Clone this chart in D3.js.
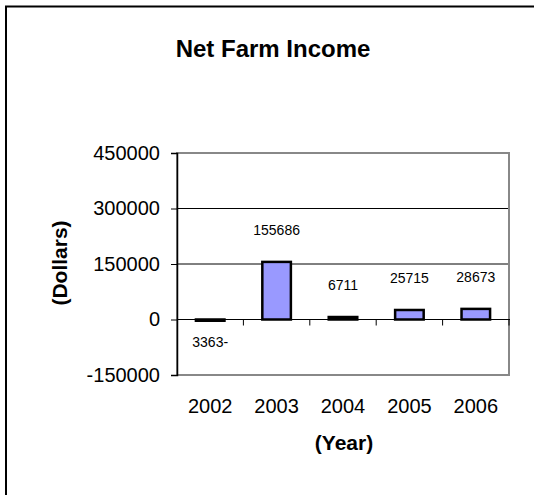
<!DOCTYPE html>
<html>
<head>
<meta charset="utf-8">
<script src="https://cdn.jsdelivr.net/npm/d3@7"></script>
<style>
  body { margin: 0; background: #fff; }
  text { font-family: Arial, "Liberation Sans", sans-serif; }
</style>
</head>
<body>
<script>
// chart data
var years = ["2002", "2003", "2004", "2005", "2006"];
var income = [-3363, 155686, 6711, 25715, 28673];
var labels = ["3363-", "155686", "6711", "25715", "28673"];
var yTicks = [-150000, 0, 150000, 300000, 450000];

var W = 534, H = 495;
var plot = { left: 177, right: 509, top: 153, bottom: 375 };

var svg = d3.select("body").append("svg")
  .attr("width", W)
  .attr("height", H);

// outer frame (only top and left edges are visible in the picture)
svg.append("path")
  .attr("d", "M6," + H + "V6.5H" + W)
  .attr("fill", "none")
  .attr("stroke", "#000")
  .attr("stroke-width", 2);

var x = d3.scaleBand().domain(years).range([plot.left, plot.right]).paddingInner(0.57).paddingOuter(0.285);
var band = d3.scaleBand().domain(years).range([plot.left, plot.right]);
var y = d3.scaleLinear().domain([-150000, 450000]).range([plot.bottom, plot.top]);

// title
svg.append("text")
  .attr("x", 273)
  .attr("y", 57)
  .attr("text-anchor", "middle")
  .style("font-size", "24px")
  .style("font-weight", "bold")
  .text("Net Farm Income");

// gridlines
svg.append("g")
  .selectAll("line")
  .data(yTicks.filter(function(d) { return d > 0 && d < 450000; }))
  .enter().append("line")
  .attr("x1", plot.left).attr("x2", plot.right)
  .attr("y1", function(d) { return y(d); })
  .attr("y2", function(d) { return y(d); })
  .attr("stroke", "#000")
  .attr("stroke-width", 1);

// plot area frame (grey)
svg.append("rect")
  .attr("x", plot.left)
  .attr("y", plot.top)
  .attr("width", plot.right - plot.left)
  .attr("height", plot.bottom - plot.top)
  .attr("fill", "none")
  .attr("stroke", "#888")
  .attr("stroke-width", 2);

// bars
svg.append("g")
  .selectAll("rect")
  .data(income)
  .enter().append("rect")
  .attr("x", function(d, i) { return x(years[i]); })
  .attr("width", x.bandwidth())
  .attr("y", function(d) { return Math.min(y(d), y(0)); })
  .attr("height", function(d) { return Math.abs(y(d) - y(0)); })
  .attr("fill", "#9999ff")
  .attr("stroke", "#000")
  .attr("stroke-width", 2.5);

// category axis at zero with ticks between bars
var xAxis = svg.append("g")
  .attr("transform", "translate(0," + y(0) + ")");
xAxis.append("line")
  .attr("x1", plot.left).attr("x2", plot.right + 1)
  .attr("stroke", "#000").attr("stroke-width", 1.2);
xAxis.selectAll(".tk")
  .data(years)
  .enter().append("line")
  .attr("class", "tk")
  .attr("x1", function(d) { return band(d) + band.bandwidth(); })
  .attr("x2", function(d) { return band(d) + band.bandwidth(); })
  .attr("y1", 0).attr("y2", 6)
  .attr("stroke", "#000");

// category labels below the plot
svg.append("g")
  .selectAll("text")
  .data(years)
  .enter().append("text")
  .attr("x", function(d) { return band(d) + band.bandwidth() / 2; })
  .attr("y", 413)
  .attr("text-anchor", "middle")
  .style("font-size", "20px")
  .text(function(d) { return d; });

// value axis (plain hyphen for negatives, like the original)
var yAxis = svg.append("g")
  .attr("transform", "translate(" + plot.left + ",0)")
  .call(d3.axisLeft(y).tickValues(yTicks).tickSize(6).tickPadding(11)
    .tickFormat(function(d) { return String(d); }));
yAxis.select(".domain").attr("stroke", "#000").attr("stroke-width", 1.5);
yAxis.selectAll("text").style("font-size", "20px").attr("fill", "#000").attr("font-family", null);

// data labels
svg.append("g")
  .selectAll("text")
  .data(income)
  .enter().append("text")
  .attr("x", function(d, i) { return x(years[i]) + x.bandwidth() / 2; })
  .attr("y", function(d) { return d < 0 ? y(d) + 26 : y(d) - 27; })
  .attr("text-anchor", "middle")
  .style("font-size", "14px")
  .text(function(d, i) { return labels[i]; });

// axis titles
svg.append("text")
  .attr("transform", "translate(67,263) rotate(-90)")
  .attr("text-anchor", "middle")
  .style("font-size", "21px")
  .style("font-weight", "bold")
  .text("(Dollars)");

svg.append("text")
  .attr("x", 344)
  .attr("y", 450)
  .attr("text-anchor", "middle")
  .style("font-size", "21px")
  .style("font-weight", "bold")
  .text("(Year)");
</script>
</body>
</html>
